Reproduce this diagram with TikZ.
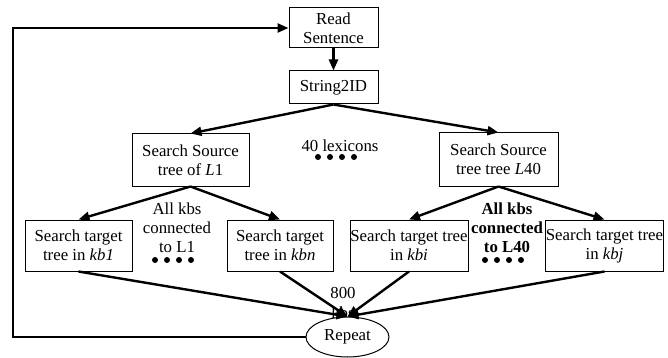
\documentclass[tikz,border=0pt]{standalone}
\usepackage{fontspec}
\setmainfont{Liberation Serif}
\usetikzlibrary{arrows.meta,shapes.geometric,calc}
\begin{document}
\begin{tikzpicture}[x=1pt,y=-1pt,
  every node/.style={font=\fontsize{16.8}{19}\selectfont, align=center, inner sep=0pt},
  box/.style={draw, line width=1pt, minimum height=51pt},
  arr/.style={line width=2.4pt, -{Triangle[length=11pt,width=9pt]}},
  dot/.style={fill=black}]
\useasboundingbox (0,0) rectangle (668,358);
\node[box, minimum width=89pt, minimum height=40pt] (read) at (333.5,28) {Read\\Sentence};
\node[box, minimum width=89pt, minimum height=33pt] (s2id) at (333.5,87.5) {String2ID};
\node[box, minimum width=117pt, minimum height=52pt] (L1) at (190.5,160) {Search Source\\tree of \textit{L}1};
\node[box, minimum width=119pt, minimum height=53pt] (L40) at (498.5,159.5) {Search Source\\tree tree \textit{L}40};
\node[box, minimum width=107pt] (kb1) at (78.5,245.5) {Search target\\tree in \textit{kb1}};
\node[box, minimum width=106pt] (kbn) at (280,245.5) {Search target\\tree in \textit{kbn}};
\node[box, minimum width=118pt] (kbi) at (409,245.5) {Search target tree\\in \textit{kbi}};
\node[box, minimum width=117pt] (kbj) at (604.5,245.5) {Search target tree\\in \textit{kbj}};
\node (lex) at (340,146) {40 lexicons};
\node (allL1) at (177,228) {All kbs\\connected\\to L1};
\node[font=\fontsize{16.8}{19}\selectfont\bfseries] (allL40) at (507,228) {All kbs\\connected\\to L40};
\node[font=\fontsize{16.8}{20}\selectfont] (kbs) at (343,303) {800\\kbs};
\node[draw, ellipse, line width=1pt, fill=white, minimum width=83pt, minimum height=40pt] (rep) at (347.5,337) {Repeat};
\coordinate (loopL) at (13,180);
\foreach \x in {318,330,342,354} \fill (\x,157) circle (3pt);
\foreach \x in {155,167,179,191} \fill (\x,260) circle (3pt);
\foreach \x in {485,497,509,521} \fill (\x,260) circle (3pt);
\draw[arr] (read.south) -- (s2id.north);
\draw[arr] (s2id.south) -- (L1.north);
\draw[arr] (s2id.south) -- (L40.north);
\draw[arr] (L1.south) -- (kb1.north);
\draw[arr] (L1.south) -- (kbn.north);
\draw[arr] (L40.south) -- (kbi.north);
\draw[arr] (L40.south) -- (kbj.north);
\draw[arr] (kb1.south) -- (rep.north);
\draw[arr] (kbn.south) -- (rep.north);
\draw[arr] (kbi.south) -- (rep.north);
\draw[arr] (kbj.south) -- (rep.north);
\draw[arr] (rep.west) -| (loopL) |- (read.west);
\end{tikzpicture}
\end{document}
